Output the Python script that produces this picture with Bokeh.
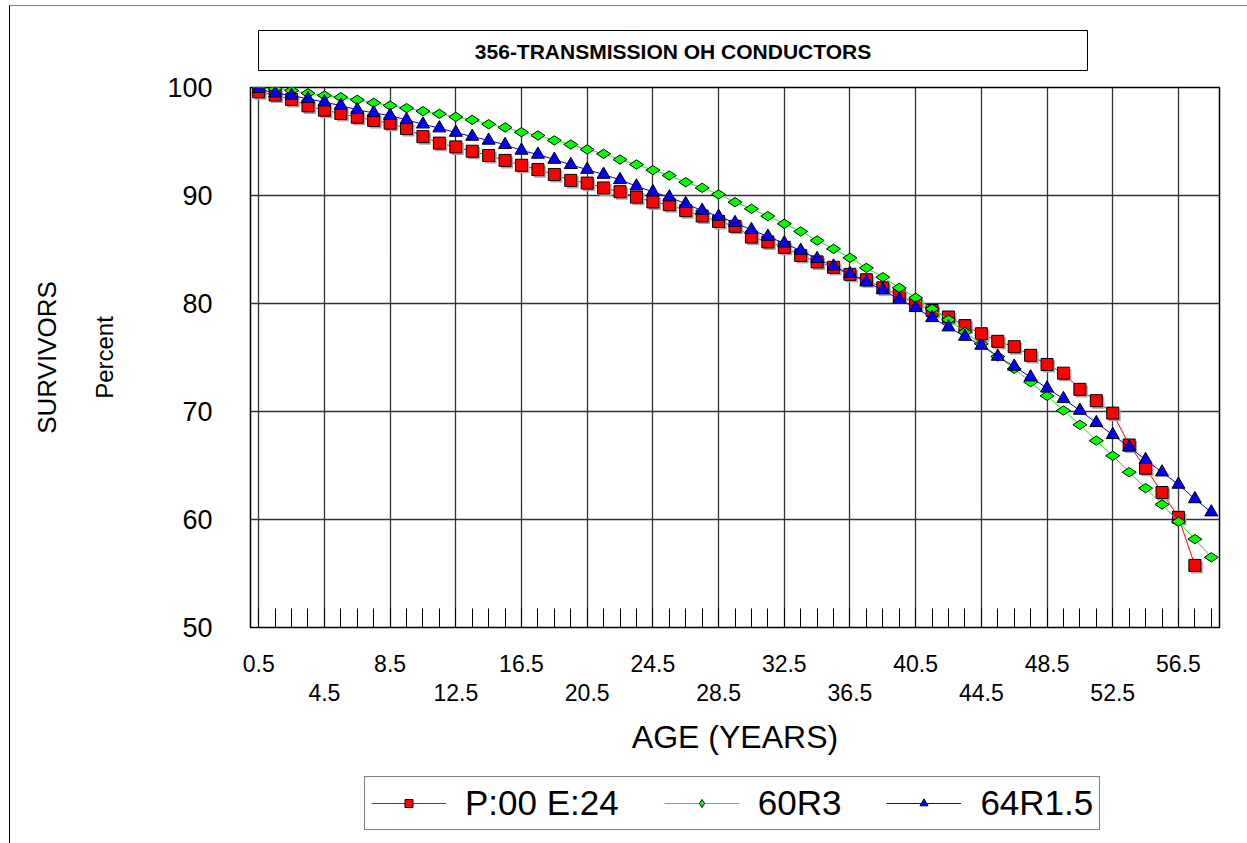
import math
from bokeh.plotting import figure
from bokeh.layouts import column
from bokeh.models import Range1d, FixedTicker, LinearAxis, Legend, LegendItem, ColumnDataSource
from bokeh.transform import dodge
from bokeh.core.properties import value
from bokeh.embed import file_html
from bokeh.resources import INLINE

# ---------------- data ----------------
ages = [0.5, 1.5, 2.5, 3.5, 4.5, 5.5, 6.5, 7.5, 8.5, 9.5,
        10.5, 11.5, 12.5, 13.5, 14.5, 15.5, 16.5, 17.5, 18.5, 19.5,
        20.5, 21.5, 22.5, 23.5, 24.5, 25.5, 26.5, 27.5, 28.5, 29.5,
        30.5, 31.5, 32.5, 33.5, 34.5, 35.5, 36.5, 37.5, 38.5, 39.5,
        40.5, 41.5, 42.5, 43.5, 44.5, 45.5, 46.5, 47.5, 48.5, 49.5,
        50.5, 51.5, 52.5, 53.5, 54.5, 55.5, 56.5, 57.5, 58.5]

red_vals = [99.6, 99.3, 98.9, 98.3, 97.9, 97.6, 97.25, 96.95, 96.7, 96.2,
            95.45, 94.85, 94.5, 94.1, 93.7, 93.25, 92.8, 92.4, 91.95, 91.4,
            91.15, 90.7, 90.35, 89.85, 89.4, 89.15, 88.6, 88.1, 87.6, 87.15,
            86.15, 85.7, 85.2, 84.45, 83.85, 83.35, 82.7, 82.2, 81.45, 80.75,
            80.0, 79.35, 78.75, 77.95, 77.2, 76.5, 76.0, 75.2, 74.35, 73.55,
            72.05, 71.0, 69.85, 66.9, 64.75, 62.5, 60.2, 55.75]

green_vals = [99.97, 99.88, 99.72, 99.47, 99.26, 99.1, 98.86, 98.58, 98.33, 98.09,
              97.81, 97.56, 97.28, 97.0, 96.6, 96.3, 95.86, 95.56, 95.1, 94.72,
              94.26, 93.86, 93.33, 92.87, 92.35, 91.85, 91.23, 90.71, 90.1, 89.38,
              88.77, 88.09, 87.38, 86.67, 85.83, 85.06, 84.23, 83.3, 82.44, 81.45,
              80.53, 79.5, 78.49, 77.35, 76.27, 75.09, 73.95, 72.72, 71.45, 70.09,
              68.77, 67.3, 65.9, 64.38, 62.9, 61.39, 59.8, 58.18, 56.5]

blue_vals = [99.88, 99.47, 99.26, 98.95, 98.64, 98.33, 97.93, 97.65, 97.4, 97.0,
             96.6, 96.24, 95.83, 95.46, 95.1, 94.7, 94.17, 93.8, 93.33, 92.84,
             92.4, 91.94, 91.45, 90.86, 90.33, 89.85, 89.23, 88.6, 88.05, 87.47,
             86.82, 86.2, 85.58, 84.9, 84.14, 83.45, 82.75, 81.98, 81.27, 80.37,
             79.6, 78.67, 77.81, 76.94, 76.11, 75.09, 74.17, 73.18, 72.15, 71.17,
             70.09, 68.95, 67.84, 66.7, 65.53, 64.38, 63.24, 61.9, 60.68]

series_names = ["P:00 E:24", "60R3", "64R1.5"]
grid_ticks = [0.5, 4.5, 8.5, 12.5, 16.5, 20.5, 24.5, 28.5, 32.5, 36.5, 40.5, 44.5, 48.5, 52.5, 56.5]
x_ticks_row1 = [0.5, 8.5, 16.5, 24.5, 32.5, 40.5, 48.5, 56.5]
x_ticks_row2 = [4.5, 12.5, 20.5, 28.5, 36.5, 44.5, 52.5]
y_ticks = [50, 60, 70, 80, 90, 100]
title_text = "356-TRANSMISSION OH CONDUCTORS"

FONT = "Liberation Sans"
W = 1237            # width of every strip (window minus outer frame offset)
OFF_X, OFF_Y = 10, 6  # outer frame margin + border
FRAME_L, FRAME_R = 250, 1219  # window px of the plot frame (shared by strips)

# ---------------- title strip (coordinates = window pixels) ----------------
TOP_H = 67
top = figure(width=W, height=TOP_H,
             x_range=Range1d(FRAME_L, FRAME_R), y_range=Range1d(OFF_Y + TOP_H, OFF_Y),
             output_backend="svg", toolbar_location=None, min_border=0,
             min_border_left=FRAME_L - OFF_X, min_border_right=OFF_X + W - FRAME_R,
             x_axis_type=None, y_axis_type=None)
top.outline_line_color = None
top.background_fill_color = "white"
top.border_fill_color = "white"
top.quad(left=[258], right=[1087], top=[30], bottom=[70],
         fill_color="white", line_color="black", line_width=1)
top.text(x=[672.5], y=[51], text=[title_text], text_align="center", text_baseline="middle",
         text_font=value(FONT), text_font_style="bold", text_font_size="21px",
         text_color="black")

# ---------------- main chart ----------------
MAIN_TOP = 14
MAIN_H = MAIN_TOP + 540 + 134
p = figure(width=W, height=MAIN_H,
           x_range=Range1d(0, 59), y_range=Range1d(50, 100),
           output_backend="svg", toolbar_location=None,
           min_border_left=FRAME_L - OFF_X, min_border_right=OFF_X + W - FRAME_R,
           min_border_top=MAIN_TOP, min_border_bottom=MAIN_H - MAIN_TOP - 540)
p.background_fill_color = "white"
p.border_fill_color = "white"
p.outline_line_color = "black"
p.outline_line_width = 1.5

p.xgrid.ticker = FixedTicker(ticks=grid_ticks)
p.ygrid.ticker = FixedTicker(ticks=y_ticks)
for g in (p.xgrid[0], p.ygrid[0]):
    g.grid_line_color = "#333333"
    g.grid_line_width = 1.3

xa = p.xaxis[0]
xa.ticker = FixedTicker(ticks=x_ticks_row1, minor_ticks=ages)
xa.axis_line_color = "black"
xa.major_tick_in = 0
xa.major_tick_out = 0
xa.minor_tick_in = 19
xa.minor_tick_out = 0
xa.minor_tick_line_color = "black"
xa.major_label_standoff = 27
xa.major_label_text_font = FONT
xa.major_label_text_font_size = "23px"
xa.major_label_text_color = "black"

xa2 = LinearAxis(ticker=FixedTicker(ticks=x_ticks_row2), axis_label="AGE (YEARS)")
xa2.axis_line_color = None
xa2.major_tick_line_color = None
xa2.minor_tick_line_color = None
xa2.major_label_standoff = 3
xa2.major_label_text_font = FONT
xa2.major_label_text_font_size = "23px"
xa2.major_label_text_color = "black"
xa2.axis_label_standoff = 15
xa2.axis_label_text_font = FONT
xa2.axis_label_text_font_size = "32px"
xa2.axis_label_text_font_style = "normal"
xa2.axis_label_text_color = "black"
p.add_layout(xa2, "below")

ya = p.yaxis[0]
ya.ticker = FixedTicker(ticks=y_ticks)
ya.axis_line_color = "black"
ya.major_tick_in = 0
ya.major_tick_out = 0
ya.minor_tick_line_color = None
ya.major_label_standoff = 38
ya.major_label_text_font = FONT
ya.major_label_text_font_size = "27px"
ya.major_label_text_color = "black"
ya.axis_label = "Percent"
ya.axis_label_standoff = 46
ya.axis_label_text_font = FONT
ya.axis_label_text_font_size = "24px"
ya.axis_label_text_font_style = "normal"
ya.axis_label_text_color = "black"

ya2 = LinearAxis(ticker=FixedTicker(ticks=[]), axis_label="SURVIVORS")
ya2.axis_line_color = None
ya2.major_tick_line_color = None
ya2.minor_tick_line_color = None
ya2.major_label_text_font_size = "0px"
ya2.axis_label_standoff = 27
ya2.axis_label_text_font = FONT
ya2.axis_label_text_font_size = "26px"
ya2.axis_label_text_font_style = "normal"
ya2.axis_label_text_color = "black"
p.add_layout(ya2, "left")

STYLES = [
    dict(marker="square", size=12, color="#ff0000", angle=0.0, shadow=True),
    dict(marker="diamond", size=14, color="#00ff00", angle=math.pi / 2, shadow=False),
    dict(marker="triangle", size=13, color="#0000ff", angle=0.0, shadow=False),
]
SERIES = [red_vals, green_vals, blue_vals]

for vals, st in zip(SERIES, STYLES):
    src = ColumnDataSource(dict(x=ages[:len(vals)], y=vals))
    p.line("x", "y", source=src, line_color=st["color"], line_width=1)
    if st["shadow"]:
        p.scatter(dodge("x", 0.12, range=p.x_range), dodge("y", -0.19, range=p.y_range),
                  source=src, marker=st["marker"], size=st["size"], angle=st["angle"],
                  fill_color="#a6a6a6", line_color=None)
    p.scatter("x", "y", source=src, marker=st["marker"], size=st["size"], angle=st["angle"],
              fill_color=st["color"], line_color="black", line_width=1)

# ---------------- legend strip ----------------
BOT_H = 837 - TOP_H - MAIN_H
bot = figure(width=W, height=BOT_H, x_range=Range1d(100, 200), y_range=Range1d(0, 1),
             output_backend="svg", toolbar_location=None, min_border=0,
             min_border_left=FRAME_L - OFF_X, min_border_right=OFF_X + W - FRAME_R,
             x_axis_type=None, y_axis_type=None)
bot.outline_line_color = None
bot.background_fill_color = "white"
bot.border_fill_color = "white"
items = []
for name, vals, st in zip(series_names, SERIES, STYLES):
    xs = ages[:len(vals)]  # outside this strip's x range: only the legend swatch shows
    l = bot.line(xs, vals, line_color=st["color"], line_width=1)
    s = bot.scatter(xs, vals, marker=st["marker"], size=st["size"], angle=st["angle"],
                    fill_color=st["color"], line_color="black", line_width=1)
    items.append(LegendItem(label=name, renderers=[l, s]))

legend = Legend(items=items, orientation="horizontal", location=(114, 13),
                label_text_font=FONT, label_text_font_size="35px", label_text_color="black",
                glyph_width=75, glyph_height=20, label_standoff=19, spacing=45,
                padding=6, margin=0,
                border_line_color="black", border_line_width=1,
                background_fill_color="white")
bot.add_layout(legend, "center")

layout = column(top, p, bot, spacing=0, margin=(5, 0, 0, 9),
                styles={"border-top": "1px solid #808080", "border-left": "1px solid #000000"})

open("out.html", "w").write(file_html(layout, INLINE))
